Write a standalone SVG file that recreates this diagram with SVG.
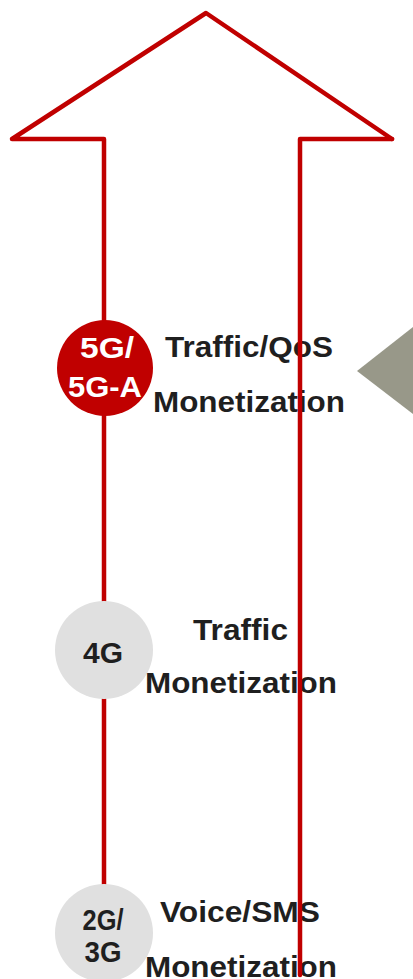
<svg xmlns="http://www.w3.org/2000/svg" width="413" height="979" viewBox="0 0 413 979">
<style>
.arrow{fill:none;stroke:#C00000;stroke-width:4.5;stroke-linejoin:round;stroke-linecap:round}
.lbl{font-family:"Liberation Sans",Arial,sans-serif;font-weight:bold;font-size:29px;fill:#1F1F1F}
.clbl{font-family:"Liberation Sans",Arial,sans-serif;font-weight:bold;font-size:29px;text-anchor:middle}
.gray{fill:#E0E0E0}
</style>
<rect width="413" height="979" fill="#FFFFFF"/>
<g id="connectors">
<path class="arrow" d="M104,905 V139 H12 L206,13 L392,139"/>
</g>
<g id="node-5g">
<circle cx="105" cy="368" r="48" fill="#C00000"/>
<text class="clbl" x="107" y="358" fill="#FFFFFF" textLength="54" lengthAdjust="spacingAndGlyphs">5G/</text>
<text class="clbl" x="105" y="397" fill="#FFFFFF" textLength="74" lengthAdjust="spacingAndGlyphs">5G-A</text>
<text class="lbl" x="165" y="357" textLength="168" lengthAdjust="spacingAndGlyphs">Traffic/QoS</text>
<text class="lbl" x="153" y="412" textLength="192" lengthAdjust="spacingAndGlyphs">Monetization</text>
</g>
<g id="node-4g">
<circle class="gray" cx="104" cy="650" r="49"/>
<text class="clbl" x="103" y="663" fill="#1F1F1F" textLength="40" lengthAdjust="spacingAndGlyphs">4G</text>
<text class="lbl" x="193" y="640" textLength="95" lengthAdjust="spacingAndGlyphs">Traffic</text>
<text class="lbl" x="145" y="693" textLength="192" lengthAdjust="spacingAndGlyphs">Monetization</text>
</g>
<g id="node-2g">
<circle class="gray" cx="104" cy="933" r="49"/>
<text class="clbl" x="103" y="930" fill="#1F1F1F" textLength="41" lengthAdjust="spacingAndGlyphs">2G/</text>
<text class="clbl" x="103" y="962" fill="#1F1F1F" textLength="37" lengthAdjust="spacingAndGlyphs">3G</text>
<text class="lbl" x="160" y="922" textLength="160" lengthAdjust="spacingAndGlyphs">Voice/SMS</text>
<text class="lbl" x="145" y="977" textLength="192" lengthAdjust="spacingAndGlyphs">Monetization</text>
</g>
<g id="connectors-right">
<path class="arrow" d="M392,139 H300 V975"/>
</g>
<g id="pointer">
<polygon points="357,371 413,327 413,414" fill="#989889"/>
</g>
</svg>
